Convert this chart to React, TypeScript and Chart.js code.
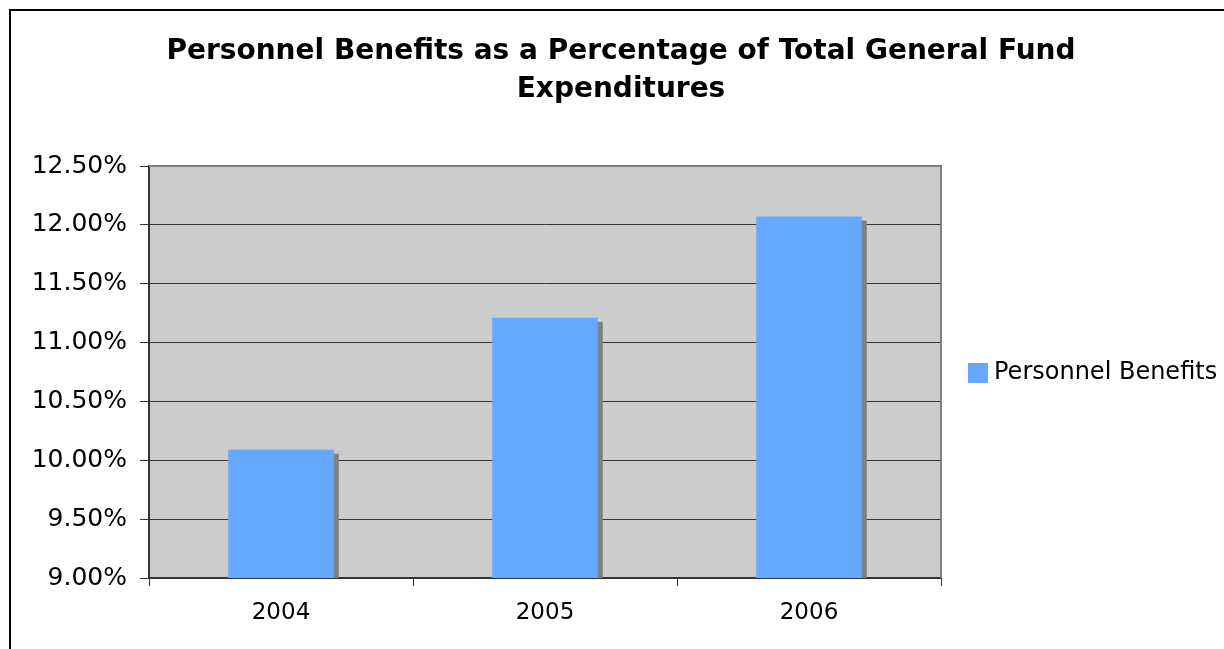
import React, { useEffect, useRef } from 'react';
import { Chart, registerables } from 'chart.js';

Chart.register(...registerables);

const categories = ['2004', '2005', '2006'];
const seriesName = 'Personnel Benefits';
const seriesValues = [10.09, 11.21, 12.07];
const titleLines = ['Personnel Benefits as a Percentage of Total General Fund', 'Expenditures'];
const yMin = 9;
const yMax = 12.5;
const yStep = 0.5;

const FONT = '"DejaVu Sans", Verdana, sans-serif';

export default function App() {
  const ref = useRef<HTMLCanvasElement>(null);

  useEffect(() => {
    document.body.style.margin = '0';
    document.body.style.overflow = 'hidden';
    const canvas = ref.current;
    if (!canvas) return;

    const framePlugin = {
      id: 'frame',
      beforeDraw(chart: any) {
        const { ctx, chartArea: a } = chart;
        ctx.save();
        ctx.fillStyle = '#ffffff';
        ctx.fillRect(0, 0, chart.width, chart.height);
        ctx.fillStyle = '#CCCCCC';
        ctx.fillRect(a.left, a.top, a.right - a.left, a.bottom - a.top);
        ctx.strokeStyle = '#000000';
        ctx.lineWidth = 2;
        ctx.strokeRect(10, 10, chart.width + 40, chart.height + 40);
        // title
        ctx.fillStyle = '#000000';
        ctx.font = 'bold 28px ' + FONT;
        ctx.textAlign = 'center';
        ctx.textBaseline = 'alphabetic';
        ctx.fillText(titleLines[0], 621, 59);
        ctx.fillText(titleLines[1], 621, 97);
        // legend
        const ds = chart.data.datasets[0];
        ctx.fillStyle = ds.backgroundColor;
        ctx.fillRect(968, 363, 20, 20);
        ctx.fillStyle = '#000000';
        ctx.font = '24px ' + FONT;
        ctx.textAlign = 'left';
        ctx.textBaseline = 'middle';
        ctx.fillText(ds.label, 994, 373);
        ctx.restore();
      },
      afterDraw(chart: any) {
        const { ctx, chartArea: a } = chart;
        ctx.save();
        ctx.strokeStyle = '#808080';
        ctx.lineWidth = 2;
        ctx.beginPath();
        ctx.moveTo(a.left, a.top);
        ctx.lineTo(a.right, a.top);
        ctx.lineTo(a.right, a.bottom);
        ctx.stroke();
        ctx.restore();
      },
    };

    const shadowPlugin = {
      id: 'barShadow',
      beforeDatasetsDraw(chart: any) {
        const { ctx, chartArea: a } = chart;
        const meta = chart.getDatasetMeta(0);
        ctx.save();
        ctx.beginPath();
        ctx.rect(a.left, a.top, a.right - a.left, a.bottom - a.top);
        ctx.clip();
        ctx.fillStyle = '#808080';
        meta.data.forEach((el: any) => {
          const p = el.getProps(['x', 'y', 'base', 'width'], true);
          ctx.fillRect(p.x - p.width / 2 + 5, p.y + 4, p.width, p.base - p.y);
        });
        ctx.restore();
      },
    };

    const chart = new Chart(canvas, {
      type: 'bar',
      data: {
        labels: categories,
        datasets: [
          {
            label: seriesName,
            data: seriesValues,
            backgroundColor: '#64A8FF',
            borderWidth: 0,
            barPercentage: 0.4,
            categoryPercentage: 1,
          },
        ],
      },
      options: {
        responsive: false,
        devicePixelRatio: 1,
        animation: false,
        layout: { padding: { top: 166, right: 283, left: 0, bottom: 0 } },
        plugins: {
          legend: { display: false },
          title: { display: false },
          tooltip: { enabled: false },
        },
        scales: {
          x: {
            afterFit: (s: any) => {
              s.height = 71;
            },
            grid: {
              offset: true,
              drawOnChartArea: false,
              tickLength: 8,
              color: '#333333',
              lineWidth: 1,
            },
            border: { display: true, color: '#333333', width: 2 },
            ticks: {
              color: '#000000',
              font: { family: FONT, size: 23 },
              padding: 13,
            },
          },
          y: {
            min: yMin,
            max: yMax,
            afterFit: (s: any) => {
              s.width = 149;
            },
            grid: {
              color: '#333333',
              lineWidth: 1,
              tickLength: 9,
            },
            border: { display: true, color: '#333333', width: 2 },
            ticks: {
              stepSize: yStep,
              color: '#000000',
              font: { family: FONT, size: 25 },
              padding: 13,
              callback: (v: any) => Number(v).toFixed(2) + '%',
            },
          },
        },
      },
      plugins: [framePlugin, shadowPlugin],
    });

    return () => chart.destroy();
  }, []);

  return <canvas ref={ref} width={1224} height={649} style={{ display: 'block' }} />;
}
